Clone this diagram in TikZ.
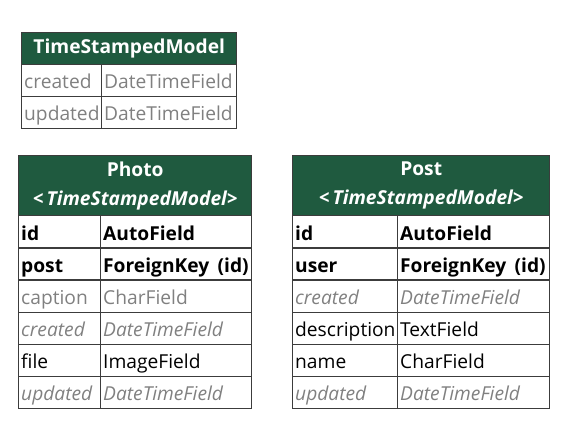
\documentclass[tikz,border=0pt]{standalone}
\usepackage{fontspec}
\setmainfont{Open Sans}
\begin{document}
\definecolor{hdr}{HTML}{1F5A3F}
\definecolor{gridc}{HTML}{3C3C3C}
\definecolor{dim}{HTML}{808080}
\begin{tikzpicture}[x=1pt,y=-1pt,
  every node/.style={font=\fontsize{19.2}{22}\selectfont},
  cell/.style={draw=gridc, line width=1.4pt, rectangle, inner xsep=2.5pt, inner ysep=0pt,
    anchor=north west, minimum height=#1, align=left, text height=18.5pt, text depth=2pt},
  cell/.default=32pt,
  head/.style={draw=gridc, line width=1.4pt, rectangle, fill=hdr, text=white,
    anchor=north west, align=center, inner sep=0pt, font=\fontsize{19.2}{28}\selectfont\bfseries},
  key/.style={font=\fontsize{19.2}{22}\selectfont\bfseries},
  plain/.style={text=dim},
  inh/.style={text=dim, font=\fontsize{19.2}{22}\selectfont\itshape},
]
\useasboundingbox (0,0) rectangle (570,441);

% --- TimeStampedModel ---
\node[head, minimum width=215pt, minimum height=32pt] (tsmH) at (21,32) {TimeStampedModel};
\node[cell, plain, text width=75pt] (tsmC1) at (21,64) {created};
\node[cell, plain, text width=130pt] (tsmT1) at (101,64) {DateTimeField};
\node[cell, plain, text width=75pt] (tsmC2) at (21,96) {updated};
\node[cell, plain, text width=130pt] (tsmT2) at (101,96) {DateTimeField};

% --- Photo ---
\node[head, minimum width=233pt, minimum height=60pt] (phH) at (18,155)
  {Photo\\[1pt]\itshape <\,TimeStampedModel>};
\foreach \y/\n/\t/\s [count=\i] in {
    215/id/AutoField/key,
    247.2/post/ForeignKey\hspace{2pt} (id)/key,
    279.3/caption/CharField/plain,
    311.5/created/DateTimeField/inh,
    343.7/file/ImageField/{},
    375.8/updated/DateTimeField/inh}{
  \node[cell=32.2pt, \s, text width=77pt] (phN\i) at (18,\y) {\n};
  \node[cell=32.2pt, \s, text width=146pt] (phT\i) at (100,\y) {\t};
}

% --- Post ---
\node[head, minimum width=257pt, minimum height=60pt] (poH) at (292,155)
  {Post\\[1pt]\itshape <\,TimeStampedModel>};
\foreach \y/\n/\t/\s [count=\i] in {
    215/id/AutoField/key,
    247.2/user/ForeignKey\hspace{2pt} (id)/key,
    279.3/created/DateTimeField/inh,
    311.5/description/TextField/{},
    343.7/name/CharField/{},
    375.8/updated/DateTimeField/inh}{
  \node[cell=32.2pt, \s, text width=100pt] (poN\i) at (292,\y) {\n};
  \node[cell=32.2pt, \s, text width=147pt] (poT\i) at (397,\y) {\t};
}
\end{tikzpicture}
\end{document}
